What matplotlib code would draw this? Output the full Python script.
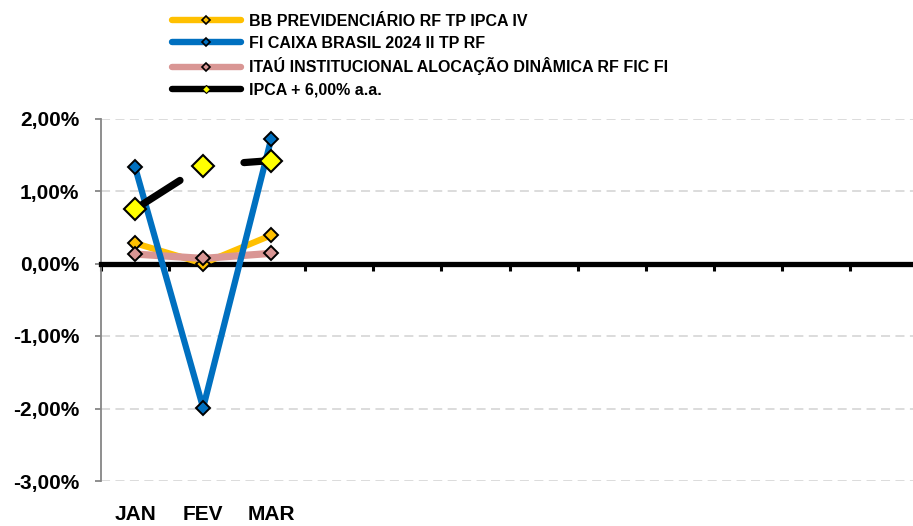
import numpy as np
import matplotlib.pyplot as plt
from matplotlib.lines import Line2D
from matplotlib.transforms import blended_transform_factory

plt.rcParams['font.family'] = ['Liberation Sans Narrow', 'Liberation Sans', 'DejaVu Sans']
plt.rcParams['font.weight'] = 'bold'

# dados (% ao mes)
meses = ["JAN", "FEV", "MAR", "", "", "", "", "", "", "", "", ""]
bb_prev = [0.28, 0.00, 0.39]
caixa_2024 = [1.33, -1.99, 1.72]
itau_inst = [0.13, 0.07, 0.14]
meta_ipca = [0.75, 1.35, 1.42]
nomes = ["BB PREVIDENCIÁRIO RF TP IPCA IV",
         "FI CAIXA BRASIL 2024 II TP RF",
         "ITAÚ INSTITUCIONAL ALOCAÇÃO DINÂMICA RF FIC FI",
         "IPCA + 6,00% a.a."]
y_ticks = [-3, -2, -1, 0, 1, 2]

LARANJA = '#FFC000'
AZUL = '#0070C0'
ROSA = '#D99694'
AMARELO = '#FFFF00'

fig = plt.figure(figsize=(9.13, 5.26), dpi=100)
ax = fig.add_axes([101/913, 45/526, 817/913, 362.5/526])
ax.set_xlim(-0.5, 11.5)
ax.set_ylim(-3, 2)

x = np.arange(len(bb_prev))
ax.plot(x, bb_prev, color=LARANJA, lw=4.5, marker='D', ms=6.8, mfc=LARANJA, mec='black', mew=1.4,
        solid_capstyle='round', solid_joinstyle='round', zorder=3)
ax.plot(x, itau_inst, color=ROSA, lw=5.2, marker='D', ms=6.8, mfc=ROSA, mec='black', mew=1.4,
        solid_capstyle='round', solid_joinstyle='round', zorder=4)
ax.plot(x, caixa_2024, color=AZUL, lw=4.5, marker='D', ms=6.8, mfc=AZUL, mec='black', mew=1.4,
        solid_capstyle='round', solid_joinstyle='round', zorder=5)

# linha da meta com trechos falhados como no original
lw_meta = 5.2
pts = ax.transData.transform(np.column_stack([x, meta_ipca]))
seg = np.hypot(*np.diff(pts, axis=0).T) * 72 / fig.dpi
on1 = 0.66 * seg[0]
off1 = seg[0] - on1 + 0.6 * seg[1]
on2 = seg[1] * 0.4
dash = [v / lw_meta for v in (on1, off1, on2, 500)]
ax.plot(x, meta_ipca, color='black', lw=lw_meta, linestyle=(0, dash), dash_capstyle='round', zorder=6)
ax.plot(x, meta_ipca, ls='none', marker='D', ms=11.5, mfc=AMARELO, mec='black', mew=1.5, zorder=7)

# eixos
for s in ['top', 'right']:
    ax.spines[s].set_visible(False)
ax.spines['left'].set_color('#868686')
ax.spines['left'].set_linewidth(1.3)
ax.spines['bottom'].set_position(('data', 0))
ax.spines['bottom'].set_linewidth(3.8)
ax.spines['bottom'].set_color('black')
ax.set_xticks(np.arange(len(meses) + 1) - 0.5)
ax.set_xticklabels([])
ax.tick_params(axis='x', direction='out', length=5.2, width=2.2, color='black')
ax.set_yticks(y_ticks)
ax.set_yticklabels([f"{v:.2f}%".replace('.', ',') for v in y_ticks], fontsize=15, fontweight='bold')
ax.tick_params(axis='y', direction='out', length=4.5, width=1.3, color='#868686', pad=11)
ax.yaxis.grid(True, color='#D9D9D9', lw=1.3, linestyle=(0, (5, 3)))
ax.set_axisbelow(True)

trans = blended_transform_factory(ax.transData, fig.transFigure)
for i, m in enumerate(meses):
    if m:
        ax.text(i, 1 - 514/526, m, transform=trans, ha='center', va='center', fontsize=15, fontweight='bold')

# titulo cortado no topo (so a base das letras aparece)
fig.text(0.53, 1.0, "RENTABILIDADE DOS FUNDOS", ha='center', va='baseline', fontsize=16, fontweight='bold')

handles = [
    Line2D([], [], color=LARANJA, lw=4.6, marker='D', ms=4.5, mfc=LARANJA, mec='black', mew=1.2, solid_capstyle='round'),
    Line2D([], [], color=AZUL, lw=4.6, marker='D', ms=4.5, mfc=AZUL, mec='black', mew=1.2, solid_capstyle='round'),
    Line2D([], [], color=ROSA, lw=4.6, marker='D', ms=4.5, mfc=ROSA, mec='black', mew=1.2, solid_capstyle='round'),
    Line2D([], [], color='black', lw=4.6, marker='D', ms=4.5, mfc=AMARELO, mec='black', mew=0.8, solid_capstyle='round'),
]
fig.legend(handles, nomes, loc='upper left', bbox_to_anchor=(172/913, 1 - 14/526), frameon=False,
           prop={'size': 11.5, 'weight': 'bold'}, handlelength=4.3, handletextpad=0.5,
           labelspacing=0.42, borderpad=0, borderaxespad=0)

fig.savefig('out.png', dpi=100)
